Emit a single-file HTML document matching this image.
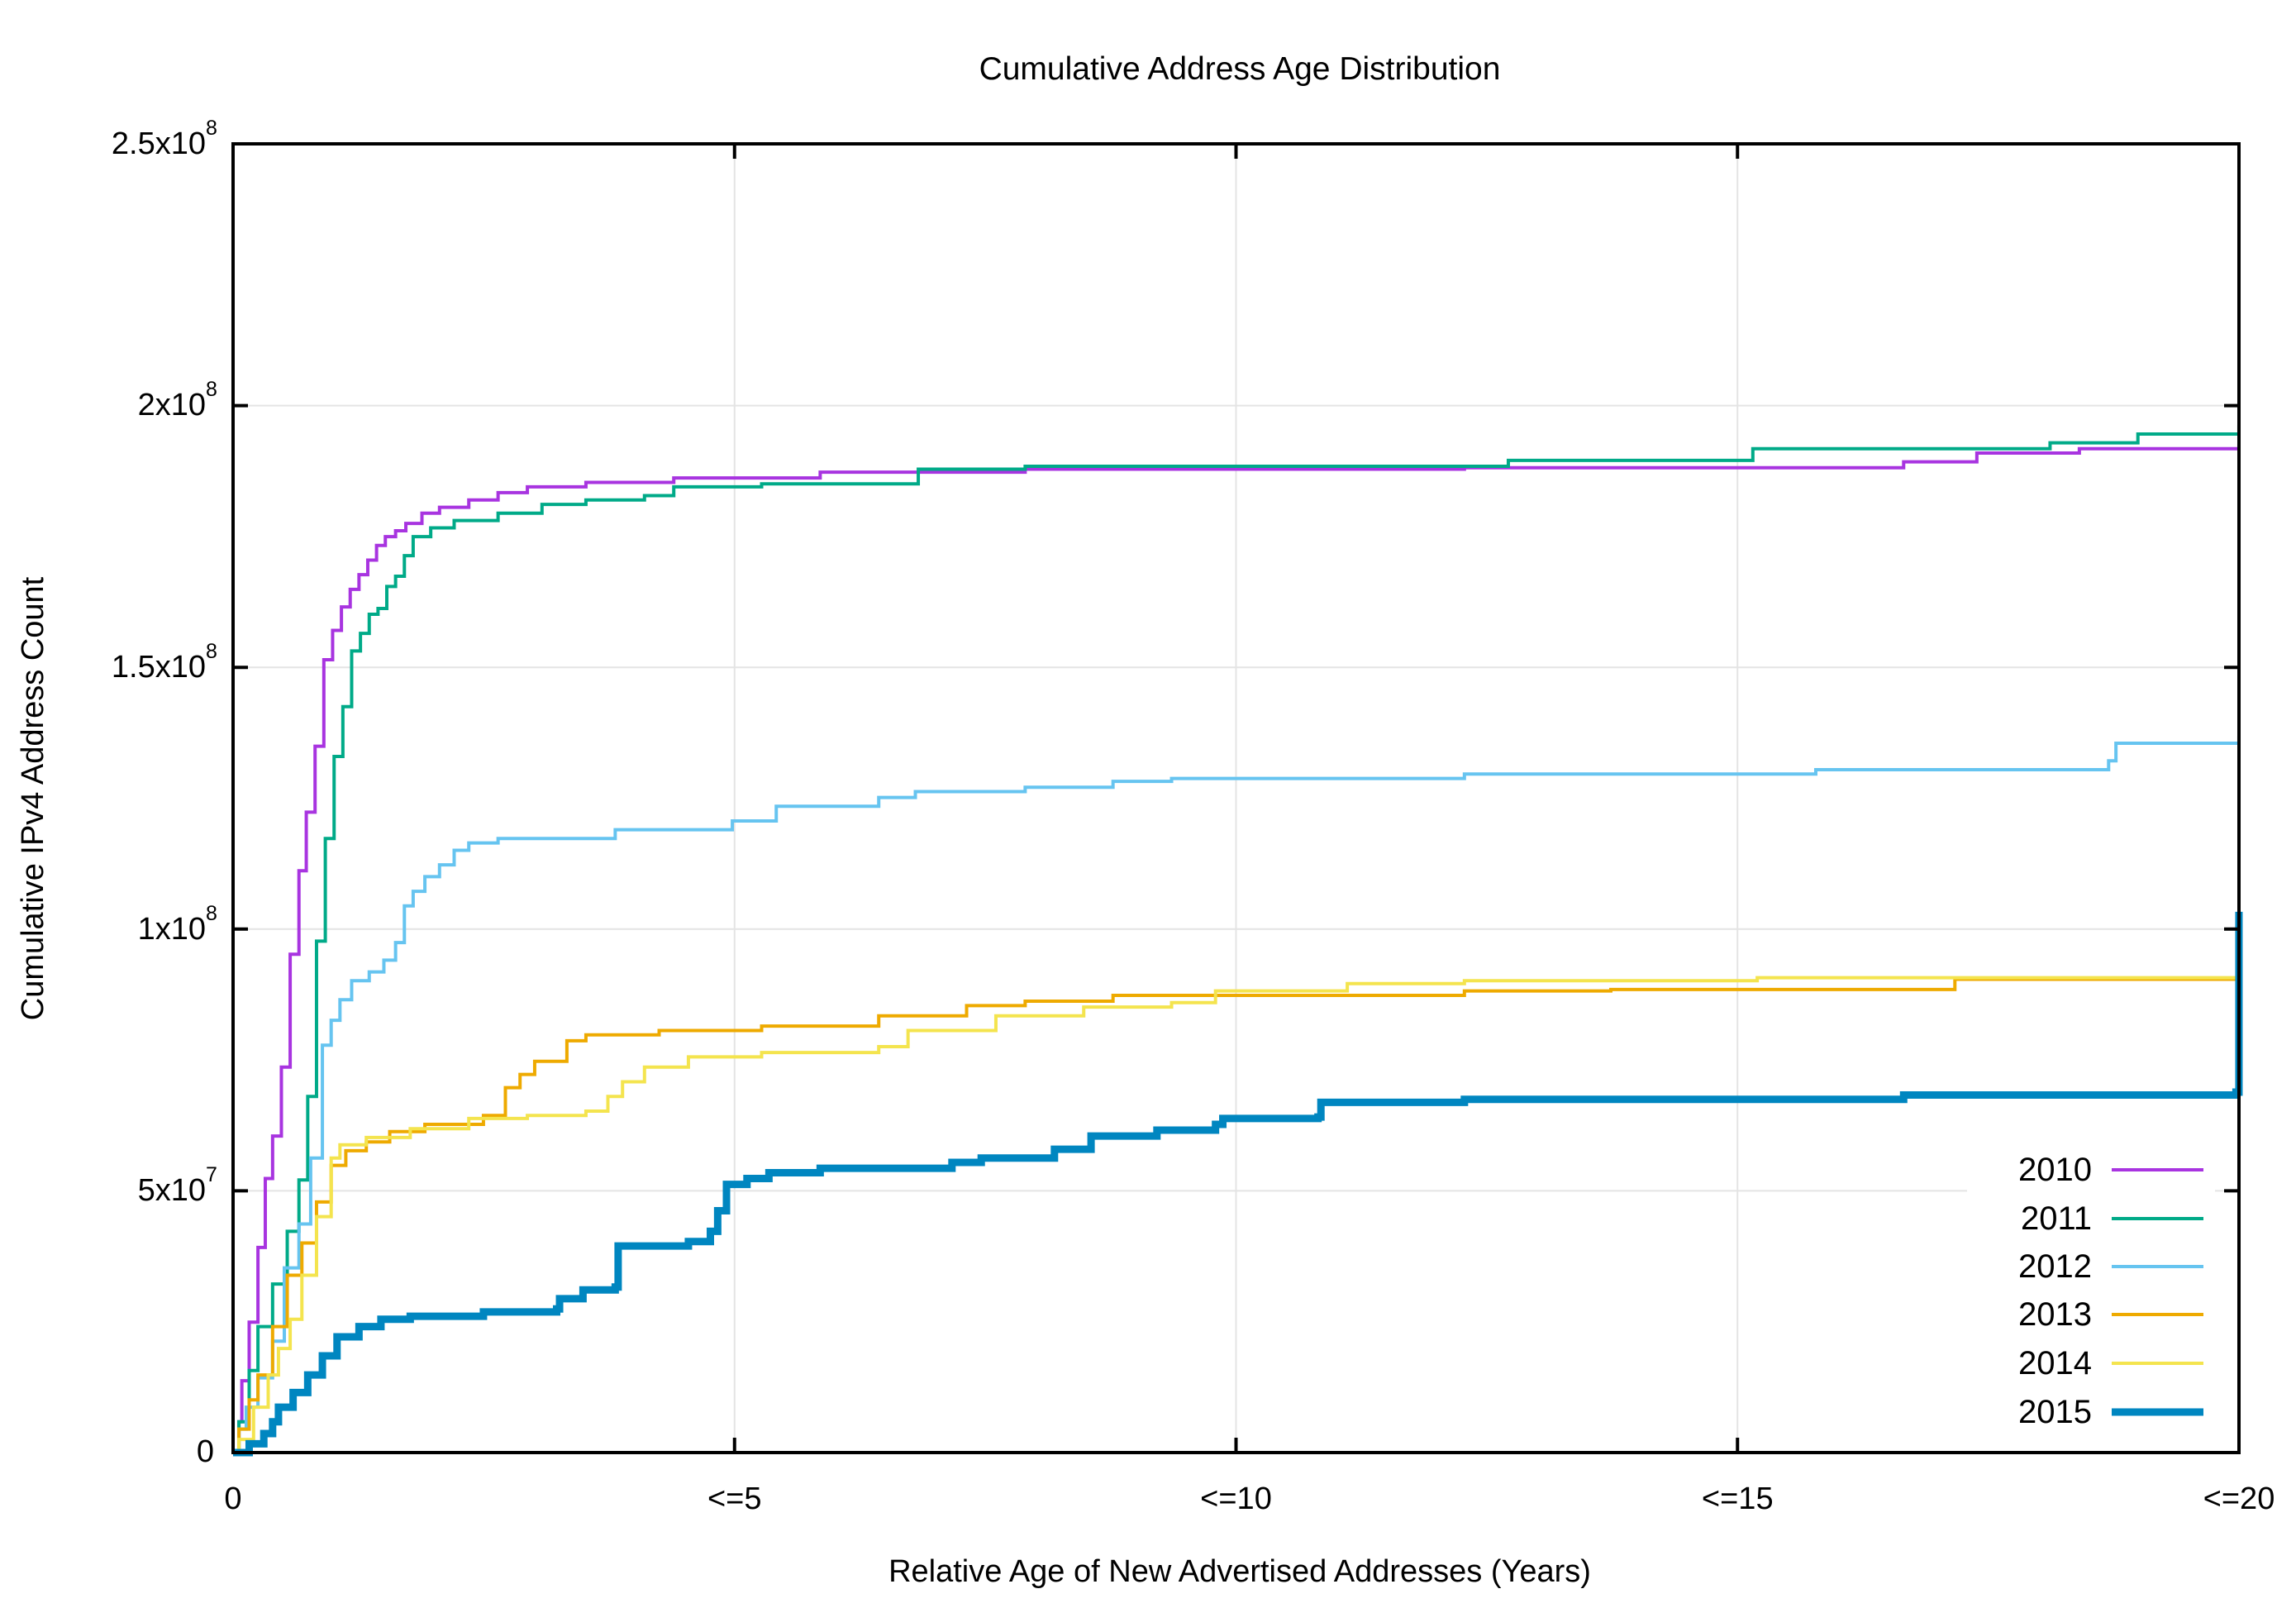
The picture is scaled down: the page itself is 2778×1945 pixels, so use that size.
<!DOCTYPE html>
<html><head><meta charset="utf-8"><style>
html,body{margin:0;padding:0;background:#fff;}
svg{display:block;font-family:"Liberation Sans",Arial,sans-serif;}
</style></head><body>
<svg width="2778" height="1945" viewBox="0 0 2778 1945" xmlns="http://www.w3.org/2000/svg">
<rect width="2778" height="1945" fill="#fff"/>
<g stroke="#e4e4e4" stroke-width="2">
<line x1="282" y1="490.6" x2="2709" y2="490.6"/>
<line x1="282" y1="807.2" x2="2709" y2="807.2"/>
<line x1="282" y1="1123.8" x2="2709" y2="1123.8"/>
<line x1="282" y1="1440.4" x2="2709" y2="1440.4"/>
<line x1="888.75" y1="174" x2="888.75" y2="1757"/>
<line x1="1495.5" y1="174" x2="1495.5" y2="1757"/>
<line x1="2102.25" y1="174" x2="2102.25" y2="1757"/>
</g>
<rect x="2380" y="1385" width="300" height="345" fill="#fff"/>
<g transform="matrix(1.7715,0,0,1.7727,0.33,0.28)" fill="none" stroke-linejoin="miter">
<path vector-effect="non-scaling-stroke" stroke="#a834e0" stroke-width="4" d="M159 991 H163 V970 H165 V942 H170 V902 H176 V851 H181 V804 H186 V775 H192 V728 H198 V651 H204 V594 H209 V554 H215 V509 H221 V450 H227 V430 H233 V414 H239 V402 H245 V392 H251 V382 H257 V372 H263 V366 H270 V362 H277 V357 H288 V350 H300 V346 H320 V341 H340 V336 H360 V332 H400 V329 H460 V326 H560 V322 H700 V320 H1000 V319 H1300 V315 H1350 V309 H1420 V306 H1529 V303"/>
<path vector-effect="non-scaling-stroke" stroke="#00aa88" stroke-width="4" d="M159 991 H163 V970 H170 V935 H176 V905 H186 V876 H196 V840 H204 V805 H210 V748 H216 V642 H222 V572 H228 V516 H234 V482 H240 V444 H246 V432 H252 V419 H258 V415 H264 V400 H270 V393 H276 V379 H282 V366 H294 V360 H310 V355 H340 V350 H370 V344 H400 V341 H440 V338 H460 V332 H520 V330 H627 V327 V320 H700 V318 H1030 V314 H1197 V306 H1400 V302 H1460 V296 H1529 V290"/>
<path vector-effect="non-scaling-stroke" stroke="#66c4f0" stroke-width="4" d="M159 991 H163 V975 H168 V960 H176 V940 H186 V915 H194 V865 H204 V835 H212 V790 H220 V713 H226 V696 H232 V682 H240 V669 H252 V663 H262 V655 H270 V643 H276 V618 H282 V608 H290 V598 H300 V590 H310 V580 H320 V575 H340 V572 H420 V566 H500 V560 H530 V550 H600 V544 H625 V540 H700 V537 H760 V533 H800 V531 H1000 V528 H1240 V525 H1440 V519 H1445 V507 H1529 V502"/>
<path vector-effect="non-scaling-stroke" stroke="#eeaa00" stroke-width="4" d="M159 991 H163 V975 H170 V955 H176 V938 H186 V905 H196 V870 H206 V848 H216 V820 H226 V795 H236 V785 H250 V779 H266 V772 H290 V767 H330 V761 H345 V742 H355 V733 H365 V724 H387 V710 H400 V706 H450 V703 H520 V700 H600 V693 H660 V686 H700 V683 H760 V679 H1000 V676 H1100 V675 H1335 V668 H1529 V660"/>
<path vector-effect="non-scaling-stroke" stroke="#f4e44e" stroke-width="4" d="M159 991 H163 V982 H173 V960 H183 V938 H190 V920 H198 V900 H206 V870 H216 V830 H226 V790 H232 V781 H250 V776 H280 V770 H320 V763 H360 V761 H400 V758 H415 V748 H425 V738 H440 V728 H470 V721 H520 V718 H600 V714 H620 V703 H680 V693 H740 V687 H800 V684 H830 V680 V676 H920 V671 H1000 V669 H1200 V667 H1529 V662"/>
<path vector-effect="non-scaling-stroke" stroke="#0086c0" stroke-width="9" d="M159 991 H170 V985 H180 V978 H186 V970 H190 V960 H200 V950 H210 V938 H220 V925 H230 V912 H245 V905 H260 V900 H280 V898 H330 V895 H380 V893 H382 V886 H398 V880 H420 V878 H422 V850 H470 V847 H485 V840 H490 V826 H496 V808 H510 V804 H525 V800 H560 V797 H650 V793 H670 V790 H720 V784 H745 V775 H790 V771 H830 V767 H835 V763 H900 V762 H902 V752 H1000 V750 H1300 V747 H1527 V745 H1529 V622"/>
</g>
<rect x="282" y="174" width="2427" height="1583" fill="none" stroke="#000" stroke-width="4"/>
<g stroke="#000" stroke-width="4">
<line x1="282" y1="490.6" x2="300" y2="490.6"/><line x1="2691" y1="490.6" x2="2709" y2="490.6"/>
<line x1="282" y1="807.2" x2="300" y2="807.2"/><line x1="2691" y1="807.2" x2="2709" y2="807.2"/>
<line x1="282" y1="1123.8" x2="300" y2="1123.8"/><line x1="2691" y1="1123.8" x2="2709" y2="1123.8"/>
<line x1="282" y1="1440.4" x2="300" y2="1440.4"/><line x1="2691" y1="1440.4" x2="2709" y2="1440.4"/>
<line x1="888.75" y1="1757" x2="888.75" y2="1739"/><line x1="888.75" y1="174" x2="888.75" y2="192"/>
<line x1="1495.5" y1="1757" x2="1495.5" y2="1739"/><line x1="1495.5" y1="174" x2="1495.5" y2="192"/>
<line x1="2102.25" y1="1757" x2="2102.25" y2="1739"/><line x1="2102.25" y1="174" x2="2102.25" y2="192"/>
</g>
<g font-size="38" fill="#000">
<text x="1500" y="96" text-anchor="middle" font-size="39">Cumulative Address Age Distribution</text>
<text x="249" y="186" text-anchor="end">2.5x10</text><text x="249" y="163" font-size="25">8</text>
<text x="249" y="502" text-anchor="end">2x10</text><text x="249" y="479" font-size="25">8</text>
<text x="249" y="819" text-anchor="end">1.5x10</text><text x="249" y="796" font-size="25">8</text>
<text x="249" y="1136" text-anchor="end">1x10</text><text x="249" y="1113" font-size="25">8</text>
<text x="249" y="1452" text-anchor="end">5x10</text><text x="249" y="1429" font-size="25">7</text>
<text x="259" y="1768" text-anchor="end">0</text>
<text x="282" y="1825" text-anchor="middle">0</text>
<text x="888.75" y="1825" text-anchor="middle">&lt;=5</text>
<text x="1495.5" y="1825" text-anchor="middle">&lt;=10</text>
<text x="2102.25" y="1825" text-anchor="middle">&lt;=15</text>
<text x="2709" y="1825" text-anchor="middle">&lt;=20</text>
<text x="1500" y="1913" text-anchor="middle">Relative Age of New Advertised Addresses (Years)</text>
<text transform="translate(52,966) rotate(-90)" text-anchor="middle">Cumulative IPv4 Address Count</text>
<g text-anchor="end" font-size="40">
<text x="2531" y="1428">2010</text>
<text x="2531" y="1487">2011</text>
<text x="2531" y="1545">2012</text>
<text x="2531" y="1603">2013</text>
<text x="2531" y="1662">2014</text>
<text x="2531" y="1721">2015</text>
</g>
</g>
<g stroke-width="4">
<line x1="2555" y1="1415" x2="2666" y2="1415" stroke="#a834e0"/>
<line x1="2555" y1="1474" x2="2666" y2="1474" stroke="#00aa88"/>
<line x1="2555" y1="1532" x2="2666" y2="1532" stroke="#66c4f0"/>
<line x1="2555" y1="1590" x2="2666" y2="1590" stroke="#eeaa00"/>
<line x1="2555" y1="1649" x2="2666" y2="1649" stroke="#f4e44e"/>
<line x1="2555" y1="1708" x2="2666" y2="1708" stroke="#0086c0" stroke-width="9"/>
</g>
</svg>
</body></html>
